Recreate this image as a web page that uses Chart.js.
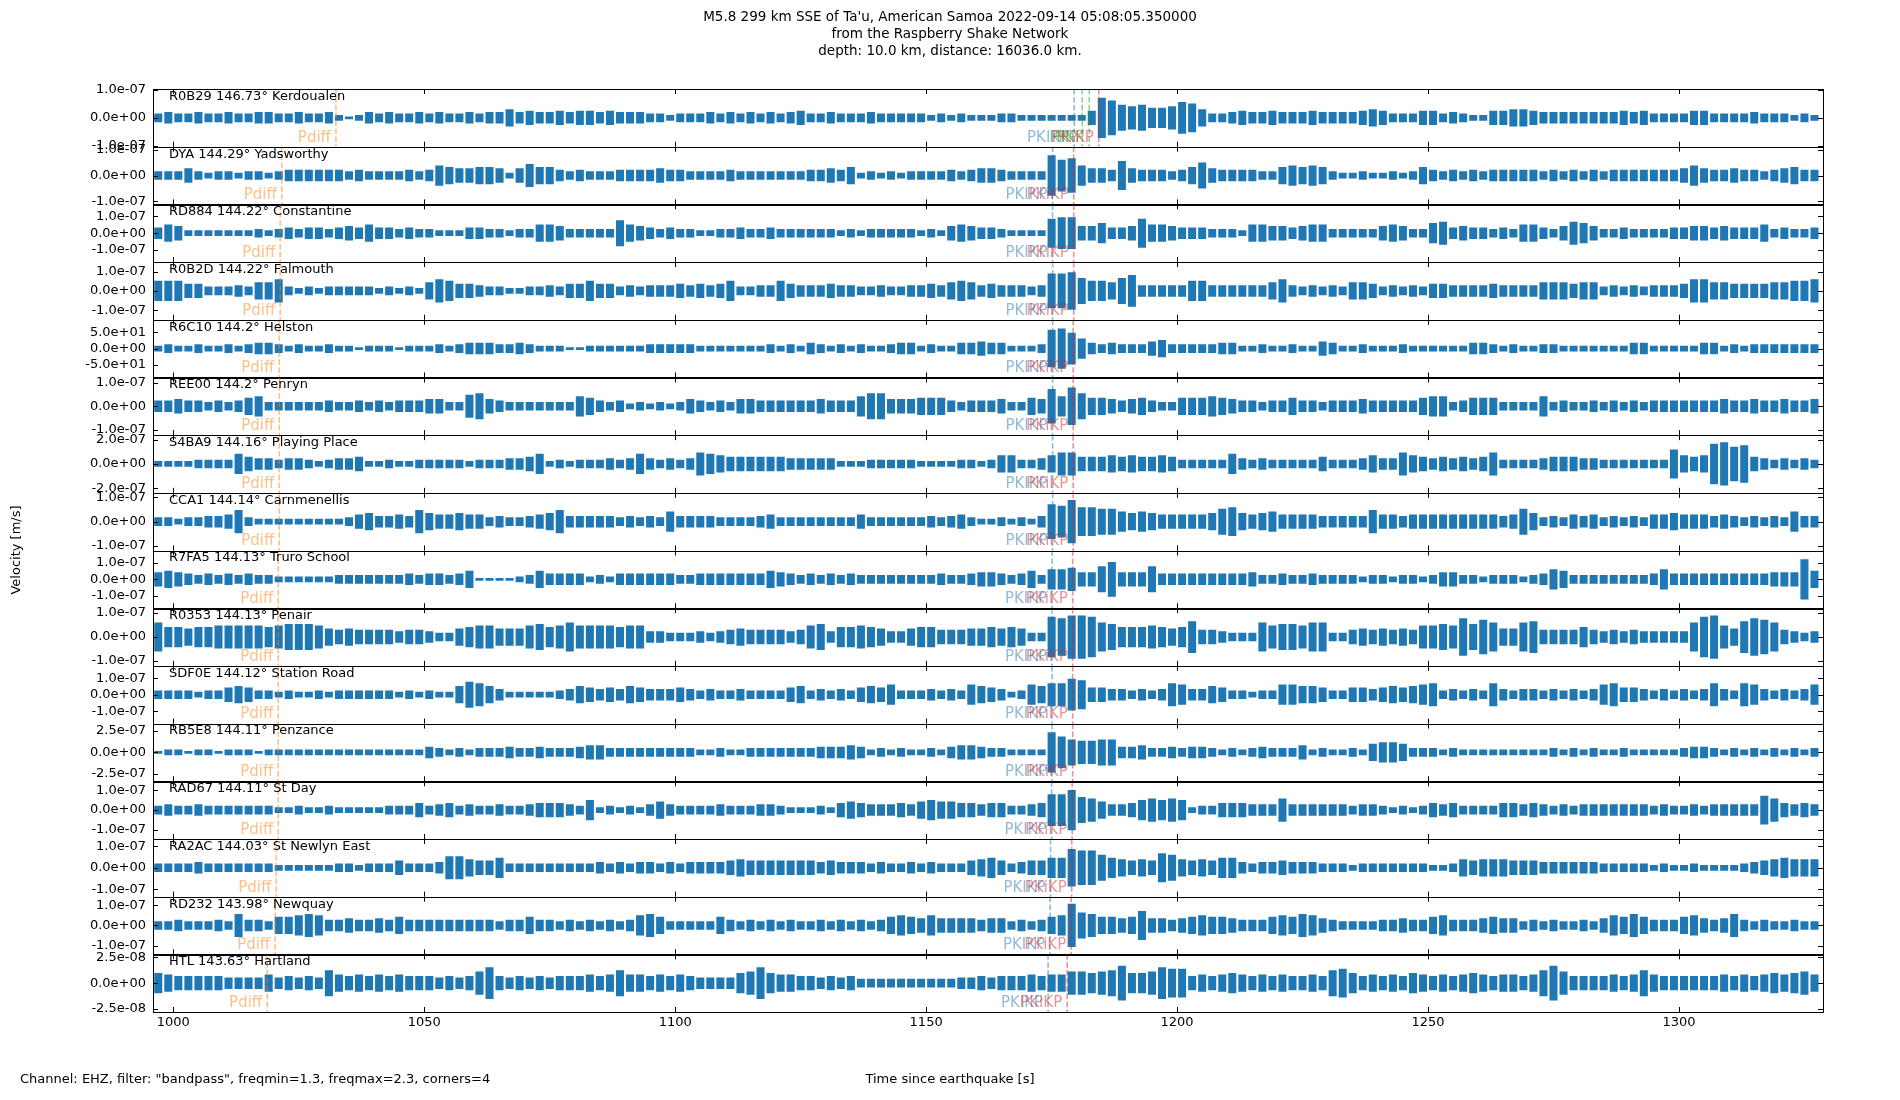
<!DOCTYPE html>
<html>
<head>
<meta charset="utf-8">
<title>M5.8 299 km SSE of Ta'u - Raspberry Shake Network</title>
<script src="https://cdn.jsdelivr.net/npm/chart.js@4.4.1/dist/chart.umd.min.js"></script>
<style>
  html, body { margin: 0; padding: 0; background: #fff; }
  #wrap { width: 1900px; height: 1100px; }
</style>
</head>
<body>
<div id="wrap"><canvas id="seismo-chart" width="1900" height="1100"></canvas></div>
<script>
// stations, top to bottom
const stations = ['R0B29', 'DYA', 'RD884', 'R0B2D', 'R6C10', 'REE00', 'S4BA9', 'CCA1',
  'R7FA5', 'R0353', 'SDF0E', 'RB5E8', 'RAD67', 'RA2AC', 'RD232', 'HTL'];
const distances = [146.73, 144.29, 144.22, 144.22, 144.2, 144.2, 144.16, 144.14,
  144.13, 144.13, 144.12, 144.11, 144.11, 144.03, 143.98, 143.63];
const places = ['Kerdoualen', 'Yadsworthy', 'Constantine', 'Falmouth', 'Helston', 'Penryn', 'Playing Place', 'Carnmenellis',
  'Truro School', 'Penair', 'Station Road', 'Penzance', 'St Day', 'St Newlyn East', 'Newquay', 'Hartland'];

// y tick step and y limit of every panel
const tickSteps = [1e-7, 1e-7, 1e-7, 1e-7, 50, 1e-7, 2e-7, 1e-7, 1e-7, 1e-7, 1e-7, 2.5e-7, 1e-7, 1e-7, 1e-7, 2.5e-8];
const yLimits = [1.04e-7, 1.12e-7, 1.72e-7, 1.49e-7, 87.7, 1.23e-7, 2.38e-7, 1.18e-7,
  1.72e-7, 1.2e-7, 1.75e-7, 3.33e-7, 1.47e-7, 1.35e-7, 1.43e-7, 2.81e-8];

// phase arrival times [s]
const pdiffTimes = [1032.4, 1021.6, 1021.3, 1021.3, 1021.1, 1021.1, 1021.1, 1021.1,
  1020.9, 1020.9, 1020.9, 1020.9, 1020.9, 1020.5, 1020.3, 1018.7];
const pkikpTimes = [1179.5, 1175.2, 1175.2, 1175.2, 1175.2, 1175.2, 1175.2, 1175.2,
  1175.1, 1175.1, 1175.1, 1175.1, 1175.0, 1174.8, 1174.7, 1174.3];
const pkiKpTimes = [1184.4, 1179.4, 1179.4, 1179.4, 1179.3, 1179.3, 1179.3, 1179.3,
  1179.2, 1179.2, 1179.2, 1179.2, 1179.1, 1179.0, 1178.9, 1178.1];
const pkpTimes = [1181.1, 1182.5]; // only on the first trace

const xTicks = [1000, 1050, 1100, 1150, 1200, 1250, 1300];

// waveform envelope per 2 s bin (first bin centred on 997 s),
// in 1/20ths of the panel's y limit
const binStart = 997;
const binWidth = 2;
const ampR0B29 = [3,4,3,3,4,3,3,4,3,3,4,4,3,3,4,3,3,4,2,1,2,4,3,4,3,3,4,3,4,3,3,4,3,4,4,6,4,5,4,4,5,4,5,5,4,5,4,4,4,3,3,2,3,3,3,4,3,4,3,4,3,4,3,4,5,3,3,4,3,3,3,4,3,3,3,3,3,2,3,2,3,2,2,2,3,
  3,2,2,2,2,2,2,2,5,14,12,9,8,9,7,7,8,11,10,6,3,3,4,5,4,4,5,4,4,4,5,4,4,4,4,5,6,5,3,3,3,5,5,3,4,3,2,2,5,5,6,6,5,4,4,4,4,4,4,4,4,5,4,5,3,3,3,3,5,5,3,3,3,3,4,3,3,3,2,3,2];
const ampDYA = [3,3,3,5,3,2,3,3,2,3,3,2,3,4,4,4,4,4,4,3,4,3,3,3,3,4,3,4,7,6,5,5,6,6,5,2,5,8,6,6,4,3,4,3,3,3,4,4,4,4,5,4,4,3,3,3,3,4,3,3,3,3,3,3,3,4,4,5,4,6,2,3,2,3,2,3,3,3,3,4,3,4,5,5,4,
  3,3,3,3,14,11,12,7,5,5,4,10,5,4,4,4,3,4,6,9,5,4,4,4,4,3,3,6,7,6,7,6,3,2,2,3,2,2,3,2,3,6,4,3,4,3,4,3,4,4,4,4,4,3,4,3,4,3,4,3,4,4,4,4,4,4,4,5,7,5,4,4,5,4,4,3,4,5,6,4,4];
const ampRD884 = [4,6,5,2,2,2,2,2,2,2,3,2,3,4,3,4,4,3,4,5,4,6,4,4,3,4,3,3,2,2,2,4,4,3,3,2,3,3,6,6,5,3,3,3,3,3,9,6,5,4,3,4,3,3,2,2,3,3,4,3,3,4,3,3,3,3,3,3,2,3,2,3,3,3,3,3,2,3,2,5,6,5,4,4,3,
  2,2,2,2,10,11,11,5,5,7,4,4,5,10,6,6,5,4,4,4,3,3,3,2,6,6,5,5,4,5,6,6,3,3,3,3,3,5,6,5,3,3,7,8,4,5,4,4,3,4,3,6,6,4,3,5,8,7,5,3,3,4,3,3,3,3,4,4,5,5,4,5,4,4,4,6,3,4,3,3,4];
const ampR0B2D = [7,7,7,5,5,3,3,3,4,3,6,6,8,3,2,3,2,3,3,3,3,3,2,3,2,3,2,6,8,7,5,5,4,3,3,2,2,3,3,4,3,5,5,7,5,5,3,4,3,4,4,4,5,4,5,4,5,7,3,3,4,4,7,5,4,4,4,5,4,4,3,3,4,3,3,4,4,5,4,6,7,6,4,5,4,
  4,4,3,4,12,12,13,9,7,7,6,9,11,4,4,4,4,4,7,7,4,4,4,4,4,4,6,8,4,3,4,3,4,3,6,6,5,3,4,3,4,3,5,5,4,4,4,4,5,4,4,4,4,6,6,6,5,6,6,3,4,3,4,3,4,4,4,5,8,8,6,6,5,5,5,5,6,6,7,7,8];
const ampR6C10 = [2,3,2,2,3,2,2,3,2,3,4,4,3,2,3,2,2,3,2,2,1,2,2,2,1,2,2,2,3,2,3,4,4,4,3,3,4,3,2,2,2,1,1,2,2,2,2,2,2,3,3,3,3,3,2,2,2,2,2,2,2,3,2,3,2,4,3,2,3,2,3,2,2,3,4,4,2,3,2,2,4,4,5,4,4,
  2,2,2,3,13,14,11,7,4,3,4,3,3,3,5,6,3,3,3,3,3,4,4,2,2,3,2,2,3,2,2,5,4,2,2,3,2,2,2,3,2,2,2,2,2,2,4,4,3,2,3,2,2,3,3,2,2,2,2,2,2,2,4,4,2,2,2,2,2,4,4,2,3,2,3,3,3,3,3,3,3];
const ampREE00 = [4,4,5,4,4,3,4,3,4,6,7,3,3,3,3,3,3,4,3,3,4,3,4,3,4,4,4,5,5,3,3,8,9,5,4,3,3,3,3,3,3,3,7,6,4,3,4,2,3,2,3,2,3,5,4,3,4,3,5,5,4,4,4,4,4,4,5,4,4,4,7,9,9,5,5,5,6,6,6,4,3,4,4,4,5,
  3,3,6,5,12,7,13,9,6,6,5,4,5,6,4,3,3,6,6,6,7,6,5,4,4,3,4,4,6,4,4,3,4,4,4,5,4,4,4,4,4,6,7,7,3,4,6,6,6,3,3,3,3,7,3,4,3,3,4,3,4,3,4,3,4,4,4,4,4,4,4,5,4,4,5,4,4,5,4,4,5];
const ampS4BA9 = [2,2,2,2,3,3,3,3,7,5,4,4,3,4,4,3,2,3,4,4,5,2,2,3,2,2,3,3,3,3,3,2,3,3,3,4,4,5,7,2,3,2,3,3,3,4,3,4,7,4,3,4,3,4,8,7,6,5,5,5,5,5,5,4,4,4,4,4,2,2,2,3,3,3,3,3,2,2,2,2,3,3,2,3,6,
  6,3,3,4,6,8,8,5,5,5,6,5,6,5,5,6,5,3,3,3,3,3,7,4,3,4,3,3,3,3,3,5,3,3,3,4,6,4,4,8,6,5,4,5,4,5,4,5,8,3,3,3,3,4,5,5,5,4,4,3,3,3,3,3,3,3,10,6,5,6,14,15,12,13,5,4,3,4,3,4,3];
const ampCCA1 = [3,3,2,3,3,4,4,5,8,3,2,2,2,2,2,2,2,2,2,3,5,6,4,4,5,4,8,6,5,5,6,5,5,3,4,3,3,4,5,6,8,4,4,4,4,4,3,4,3,4,3,7,4,4,4,4,3,3,3,3,4,5,3,3,3,3,3,3,3,3,5,3,3,3,3,3,3,4,3,4,5,3,2,2,3,
  2,3,2,4,12,11,15,10,10,9,9,7,6,7,6,5,5,5,5,5,6,9,10,6,5,6,7,5,5,5,5,4,4,4,4,4,8,5,5,4,5,5,5,5,5,5,5,5,5,4,5,9,6,3,4,3,5,4,5,3,4,3,4,3,5,5,6,5,5,5,4,5,4,3,4,3,4,3,7,4,4];
const ampR7FA5 = [5,6,5,4,3,4,3,4,3,4,3,3,2,2,2,2,2,2,3,3,3,3,3,3,3,4,3,4,4,3,4,6,1,1,1,1,2,3,6,4,4,4,4,2,3,2,4,4,4,4,4,4,3,3,4,4,4,4,4,4,4,6,5,4,3,4,3,4,3,4,3,3,3,3,3,3,3,3,4,3,3,4,5,5,4,
  3,4,6,3,7,7,8,5,5,9,12,5,5,5,9,4,4,4,4,4,4,4,4,4,5,3,3,4,3,3,4,3,3,3,3,2,3,3,2,3,3,2,3,5,5,3,3,2,3,3,3,2,3,4,7,6,3,3,3,3,3,3,3,3,4,7,4,4,4,4,4,4,4,4,4,4,5,5,5,14,6];
const ampR0353 = [10,7,7,6,7,7,8,8,8,8,8,7,8,9,9,9,8,6,5,6,5,5,5,5,4,5,5,4,3,3,6,7,8,8,6,6,6,8,9,7,8,10,8,8,8,8,7,8,8,4,4,3,3,3,4,3,4,5,6,5,5,5,5,4,5,8,9,4,7,7,8,7,6,4,4,6,7,7,5,5,5,6,6,7,6,
  7,6,3,3,14,13,15,15,14,10,9,7,7,7,8,7,6,7,11,5,5,4,3,3,3,10,8,9,9,8,10,10,3,3,5,6,5,6,5,6,5,8,8,9,8,13,9,12,10,6,6,10,11,5,5,5,5,7,5,4,5,4,5,4,4,4,4,4,10,14,15,8,6,11,13,12,10,5,4,3,4];
const ampSDF0E = [3,3,3,3,2,3,3,5,6,5,3,3,2,3,2,2,3,2,3,3,3,3,3,3,2,3,2,3,2,2,6,9,8,6,4,2,2,2,2,2,3,4,6,5,4,5,4,6,5,4,4,4,5,4,3,4,3,3,4,3,3,3,3,5,6,3,4,3,4,3,5,6,5,7,3,3,3,4,3,4,3,7,6,5,4,
  2,3,7,6,8,8,11,10,5,5,4,4,3,4,3,4,8,7,4,4,6,5,3,3,2,3,3,7,7,6,6,5,3,3,5,5,4,5,6,5,6,7,8,3,4,3,4,3,8,4,3,4,4,3,4,3,4,3,4,7,8,5,5,4,3,4,3,4,3,4,8,4,3,8,7,4,3,4,3,4,7];
const ampRB5E8 = [1,2,2,1,2,2,1,2,2,2,1,2,2,2,2,2,2,2,2,2,2,2,2,2,2,2,2,4,3,2,3,2,3,3,3,4,3,3,4,3,3,3,4,5,5,3,3,3,3,3,3,3,3,3,2,2,3,2,2,3,3,3,3,3,3,3,4,4,4,5,4,2,3,2,3,2,2,3,2,4,5,5,4,3,3,
  2,2,2,2,14,11,9,8,8,9,9,4,4,5,3,3,4,3,4,4,3,2,3,2,3,4,3,3,3,5,2,3,2,2,3,2,6,7,7,6,3,3,3,2,3,2,2,2,2,2,2,2,2,2,3,2,3,2,3,2,2,3,2,2,2,2,2,3,4,4,3,2,3,2,3,2,3,2,3,2,3];
const ampRAD67 = [3,4,3,3,4,3,3,3,3,3,3,3,2,2,3,2,2,3,2,2,2,2,2,3,3,3,5,3,4,5,3,4,3,3,4,3,3,4,5,5,5,4,3,7,2,3,2,3,2,4,6,4,3,3,3,3,4,3,3,3,4,4,3,2,2,2,3,2,5,6,5,4,4,4,5,4,6,7,6,6,5,5,4,5,5,
  3,3,4,5,11,11,14,9,8,6,4,4,5,7,8,7,8,7,2,3,3,5,5,5,4,4,4,8,4,4,4,4,4,4,3,4,4,3,2,3,2,3,5,4,5,3,3,3,3,5,5,4,5,4,3,4,3,4,4,4,4,4,4,4,3,4,3,3,4,3,4,4,4,4,4,10,8,5,4,5,4];
const ampRA2AC = [3,3,3,3,4,3,3,3,3,3,3,3,2,2,2,2,2,2,3,3,2,3,3,3,5,3,3,3,4,8,8,6,5,5,7,3,3,3,3,3,3,3,3,3,4,3,4,3,4,4,3,4,3,4,4,4,4,5,6,5,5,5,5,5,5,5,4,5,4,4,4,3,4,3,3,4,3,4,3,3,3,5,6,7,5,
  3,4,5,5,7,7,13,12,12,9,7,6,5,6,5,10,9,6,5,6,5,7,7,4,3,4,4,5,4,4,4,3,3,3,2,3,3,3,3,3,3,3,2,2,3,6,5,6,6,6,5,5,5,4,4,4,4,4,4,3,3,3,3,3,2,3,2,2,3,2,2,2,2,3,4,5,6,7,6,6,6];
const ampRD232 = [3,3,4,3,3,3,4,3,8,4,4,3,6,6,7,8,7,4,4,5,4,4,5,4,6,4,4,4,4,4,4,4,4,4,3,4,4,6,4,4,3,4,3,4,3,4,3,4,7,8,6,3,3,3,3,3,6,4,3,4,3,4,3,4,3,3,4,3,4,3,4,3,4,6,7,6,5,7,5,5,5,5,4,5,5,
  3,4,3,4,6,7,15,9,8,6,6,5,6,10,5,5,4,5,6,7,6,6,5,4,4,4,6,7,6,8,7,5,4,3,3,3,3,4,4,5,4,4,6,7,4,4,4,5,6,5,5,3,4,3,4,3,3,4,3,5,7,6,8,6,4,4,4,6,7,5,4,5,8,4,3,4,3,3,4,3,3];
const ampHTL = [7,6,5,5,5,5,5,4,4,4,4,6,4,5,4,5,4,9,6,5,6,5,6,5,6,5,5,5,4,5,4,5,8,11,5,4,5,4,5,4,5,5,5,6,5,6,9,6,6,5,6,5,6,5,4,4,4,4,7,8,11,7,6,6,5,5,4,5,4,5,3,3,3,3,3,3,3,3,3,3,4,4,5,4,5,
  5,5,6,5,6,6,8,8,7,8,9,12,7,7,8,11,10,10,5,6,5,6,7,6,5,6,5,6,5,5,6,5,9,10,7,5,6,5,6,5,7,6,5,6,5,6,7,6,5,6,6,5,6,9,12,8,5,5,5,5,6,5,6,9,6,5,5,5,5,5,5,6,5,6,5,6,7,6,7,8,6];

const envelopes = [ampR0B29, ampDYA, ampRD884, ampR0B2D, ampR6C10, ampREE00, ampS4BA9, ampCCA1,
  ampR7FA5, ampR0353, ampSDF0E, ampRB5E8, ampRAD67, ampRA2AC, ampRD232, ampHTL];

const WAVE = '#1f77b4';
const PHASE_COLORS = {
  Pdiff: 'rgba(255,127,14,0.5)',
  PKIKP: 'rgba(31,119,180,0.5)',
  PKP: 'rgba(44,160,44,0.5)',
  PKiKP: 'rgba(214,39,40,0.5)'
};
const FONT = '"DejaVu Sans", "Liberation Sans", sans-serif';

function phasesFor(i) {
  const list = [{name: 'Pdiff', t: pdiffTimes[i]}, {name: 'PKIKP', t: pkikpTimes[i]}];
  if (i === 0) pkpTimes.forEach(t => list.push({name: 'PKP', t: t}));
  list.push({name: 'PKiKP', t: pkiKpTimes[i]});
  return list;
}

function sci(v) {
  if (v === 0) return '0.0e+00';
  const parts = v.toExponential(1).split('e');
  const n = parseInt(parts[1], 10);
  return parts[0] + 'e' + (n < 0 ? '-' : '+') + String(Math.abs(n)).padStart(2, '0');
}

const datasets = envelopes.map((env, i) => ({
  label: stations[i],
  yAxisID: 'y' + i,
  data: env.map((a, k) => {
    const half = a / 20 * yLimits[i];
    return {x: binStart + k * binWidth, y: [-half, half]};
  }),
  backgroundColor: WAVE,
  borderWidth: 0,
  grouped: false,
  barPercentage: 0.8,
  categoryPercentage: 1.0
}));

const scales = {
  x: {type: 'linear', min: 995.95, max: 1328.7, offset: false, display: false}
};
stations.forEach((s, i) => {
  scales['y' + i] = {
    type: 'linear', position: 'left', stack: 'traces', stackWeight: 1,
    min: -yLimits[i], max: yLimits[i], display: false
  };
});

// put panel i at row i, top to bottom
const panelLayout = {
  id: 'panelLayout',
  afterLayout(chart) {
    const area = chart.chartArea;
    const h = (area.bottom - area.top) / stations.length;
    stations.forEach((s, i) => {
      const sc = chart.scales['y' + i];
      sc.top = area.top + i * h;
      sc.bottom = sc.top + h;
      sc.height = h;
      sc.configure();
    });
  }
};

function text(ctx, str, x, y, size, color, align, baseline) {
  ctx.font = size + 'px ' + FONT;
  ctx.fillStyle = color;
  ctx.textAlign = align;
  ctx.textBaseline = baseline;
  ctx.fillText(str, x, y);
}

const decorations = {
  id: 'decorations',
  afterDatasetsDraw(chart) {
    const ctx = chart.ctx;
    const area = chart.chartArea;
    const xs = chart.scales.x;
    const L = area.left, R = area.right;
    ctx.save();

    stations.forEach((s, i) => {
      const sc = chart.scales['y' + i];
      const top = sc.top, bottom = sc.bottom;

      // phase markers
      phasesFor(i).forEach(ph => {
        const px = xs.getPixelForValue(ph.t);
        ctx.strokeStyle = PHASE_COLORS[ph.name];
        ctx.lineWidth = 1.6;
        ctx.setLineDash([5.5, 2.4]);
        ctx.beginPath();
        ctx.moveTo(px, top);
        ctx.lineTo(px, bottom);
        ctx.stroke();
        ctx.setLineDash([]);
        text(ctx, ph.name, px - 5, bottom - 9, 15, PHASE_COLORS[ph.name], 'right', 'middle');
      });

      // frame
      ctx.strokeStyle = '#000';
      ctx.lineWidth = 1;
      ctx.strokeRect(Math.round(L) + 0.5, Math.round(top) + 0.5, Math.round(R - L), Math.round(bottom - top));

      // x ticks, inward top and bottom
      ctx.beginPath();
      xTicks.forEach(v => {
        const px = Math.round(xs.getPixelForValue(v)) + 0.5;
        ctx.moveTo(px, top); ctx.lineTo(px, top + 5);
        ctx.moveTo(px, bottom - 5); ctx.lineTo(px, bottom);
      });
      // y ticks, inward left and right
      [-tickSteps[i], 0, tickSteps[i]].forEach(v => {
        const py = Math.round(sc.getPixelForValue(v)) + 0.5;
        ctx.moveTo(L, py); ctx.lineTo(L + 5, py);
        ctx.moveTo(R - 5, py); ctx.lineTo(R, py);
      });
      ctx.stroke();

      [tickSteps[i], 0, -tickSteps[i]].forEach(v => {
        text(ctx, sci(v), L - 7, sc.getPixelForValue(v), 13, '#000', 'right', 'middle');
      });

      text(ctx, stations[i] + ' ' + distances[i] + '\u00b0 ' + places[i], L + 16, top + 7.5, 13, '#000', 'left', 'middle');
    });

    // x tick labels under the last panel
    const lastBottom = chart.scales['y' + (stations.length - 1)].bottom;
    xTicks.forEach(v => {
      text(ctx, String(v), xs.getPixelForValue(v), lastBottom + 11, 13, '#000', 'center', 'middle');
    });

    // title
    const titleLines = [
      "M5.8 299 km SSE of Ta'u, American Samoa 2022-09-14 05:08:05.350000",
      'from the Raspberry Shake Network',
      'depth: 10.0 km, distance: 16036.0 km.'
    ];
    titleLines.forEach((t, k) => text(ctx, t, 950, 17 + k * 17, 13.5, '#000', 'center', 'middle'));

    // axis labels and footer
    ctx.save();
    ctx.translate(17, 550);
    ctx.rotate(-Math.PI / 2);
    text(ctx, 'Velocity [m/s]', 0, 0, 13, '#000', 'center', 'middle');
    ctx.restore();
    text(ctx, 'Time since earthquake [s]', 950, 1080, 13, '#000', 'center', 'middle');
    text(ctx, 'Channel: EHZ, filter: "bandpass", freqmin=1.3, freqmax=2.3, corners=4', 20, 1080, 13, '#000', 'left', 'middle');

    ctx.restore();
  }
};

new Chart(document.getElementById('seismo-chart'), {
  type: 'bar',
  data: {datasets: datasets},
  options: {
    responsive: false,
    animation: false,
    devicePixelRatio: 1,
    layout: {padding: {left: 153, right: 77, top: 89, bottom: 88}},
    plugins: {legend: {display: false}, tooltip: {enabled: false}, title: {display: false}},
    scales: scales
  },
  plugins: [panelLayout, decorations]
});
</script>
</body>
</html>
